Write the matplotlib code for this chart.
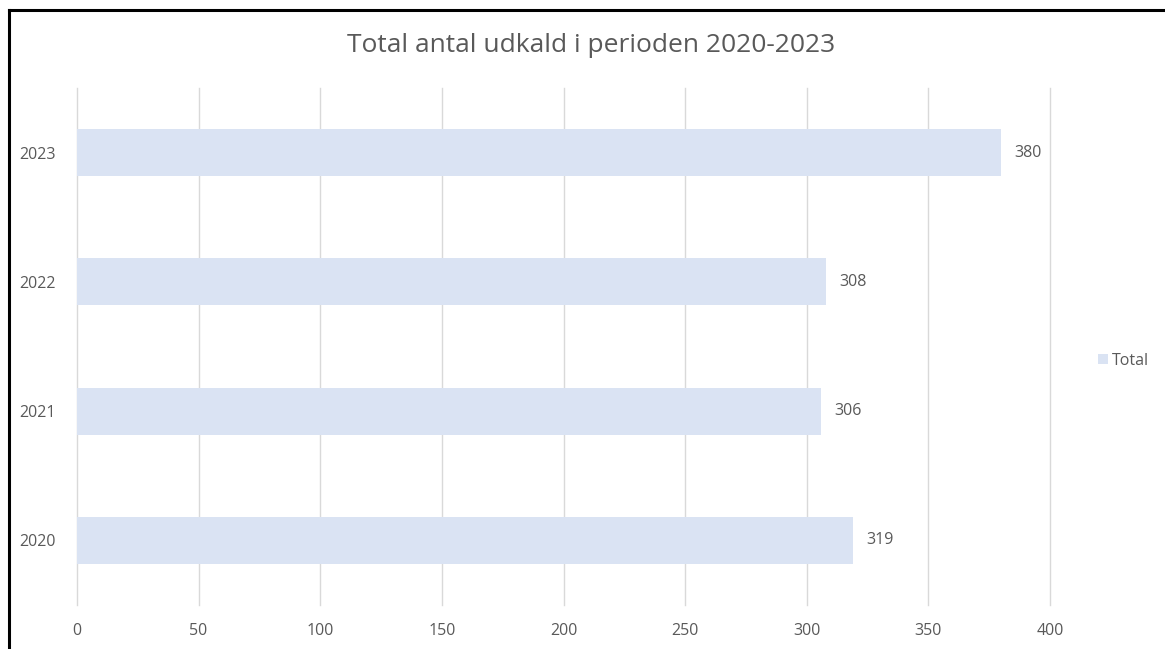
import matplotlib
matplotlib.use("Agg")
import matplotlib.pyplot as plt
from matplotlib.patches import Patch
from matplotlib.lines import Line2D

years = ["2020", "2021", "2022", "2023"]
totals = [319, 306, 308, 380]
xticks = [0, 50, 100, 150, 200, 250, 300, 350, 400]
title = "Total antal udkald i perioden 2020-2023"
series_name = "Total"

plt.rcParams['font.family'] = ['Open Sans', 'DejaVu Sans']
txt = "#595959"
bar_color = "#DAE3F3"
grid_color = "#D9D9D9"

fig = plt.figure(figsize=(11.65, 6.49), dpi=100)
ax = fig.add_axes([77/1165, 1 - 605/649, (1050-77)/1165, (605-88)/649])

ypos = list(range(len(years)))
ax.barh(ypos, totals, height=0.365, color=bar_color, zorder=2)
ax.set_xlim(0, 400)
ax.set_ylim(-0.5, len(years) - 0.5)
ax.set_xticks(xticks)
ax.set_xticklabels([str(t) for t in xticks])
ax.set_yticks(ypos)
ax.set_yticklabels(years)
ax.grid(axis='x', color=grid_color, linewidth=1.0, zorder=0)
ax.set_axisbelow(True)
for gl in ax.get_xgridlines():
    gl.set_clip_on(False)
for s in ax.spines.values():
    s.set_visible(False)
ax.tick_params(axis='both', length=0, labelsize=11.5, colors=txt)
ax.tick_params(axis='x', pad=13)
ax.tick_params(axis='y', pad=15)

for y, v in zip(ypos, totals):
    ax.annotate(str(v), (v, y), xytext=(9.5, 0), textcoords='offset points',
                va='center', ha='left', fontsize=11.5, color=txt)

fig.text(591/1165, 1 - 45/649, title, ha='center', va='center', fontsize=19, color=txt)

handle = Patch(facecolor=bar_color, edgecolor='none')
fig.legend([handle], [series_name], loc='center left', bbox_to_anchor=(1098/1165, 1 - 361/649),
           frameon=False, fontsize=11.5, handlelength=0.6, handleheight=0.6, handletextpad=0.3,
           labelcolor=txt, borderpad=0, borderaxespad=0)

# outer border (left and top)
fig.add_artist(Line2D([8.5/1165, 8.5/1165], [0, 1 - 9.5/649], transform=fig.transFigure, color='black', linewidth=2.2))
fig.add_artist(Line2D([8.5/1165, 1], [1 - 9.5/649, 1 - 9.5/649], transform=fig.transFigure, color='black', linewidth=2.2))

fig.savefig("out.png", dpi=100)
